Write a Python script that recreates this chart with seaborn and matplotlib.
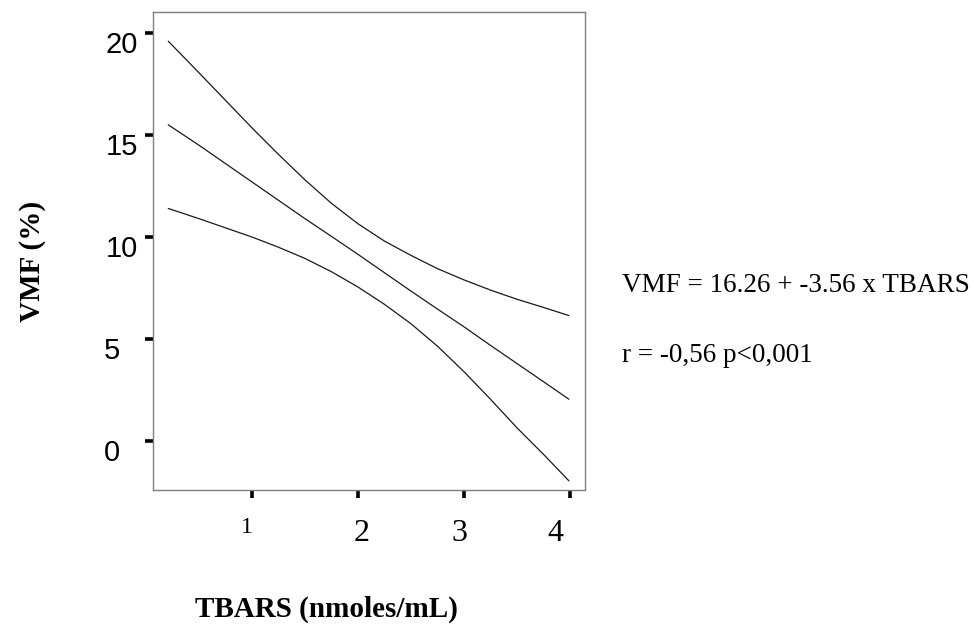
import matplotlib
matplotlib.use("Agg")
import matplotlib.pyplot as plt
import matplotlib.transforms as mtransforms
import seaborn as sns

# values (TBARS vs VMF with 95% band)
tbars = [0.21, 0.50, 0.75, 1.00, 1.25, 1.50, 1.75, 2.00,
         2.25, 2.50, 2.75, 3.00, 3.25, 3.50, 3.75, 3.99]
vmf_upper = [19.6, 18.05, 16.7, 15.35, 14.05, 12.8, 11.65, 10.65,
             9.8, 9.1, 8.45, 7.9, 7.4, 6.95, 6.55, 6.15]
vmf_fit = [15.5, 14.5, 13.6, 12.7, 11.8, 10.9, 10.03, 9.15,
           8.25, 7.35, 6.47, 5.6, 4.69, 3.8, 2.91, 2.05]
vmf_lower = [11.4, 10.9, 10.45, 10.0, 9.5, 8.95, 8.3, 7.55,
             6.7, 5.75, 4.65, 3.4, 2.05, 0.65, -0.65, -1.95]

x_ticks = [1, 2, 3, 4]
x_tick_labels = ["1", "2", "3", "4"]
y_ticks = [0, 5, 10, 15, 20]
y_tick_labels = ["0", "5", "10", "15", "20"]

equation_text = "VMF = 16.26 + -3.56 x TBARS"
stats_text = "r = -0,56 p<0,001"

SERIF = "Liberation Serif"
SANS = "Liberation Sans"

sns.set_theme(style="white")
plt.rcParams.update({
    "text.color": "black",
    "axes.labelcolor": "black",
    "xtick.color": "black",
    "ytick.color": "black",
})

fig = plt.figure(figsize=(9.74, 6.27), dpi=100)
ax = fig.add_axes([153 / 974, (627 - 490) / 627, 432 / 974, 478 / 627])

for series in (vmf_upper, vmf_fit, vmf_lower):
    sns.lineplot(x=tbars, y=series, ax=ax, color="#1a1a1a", linewidth=0.9)

ax.set_xlim(0.066, 4.142)
ax.set_ylim(-2.40, 21.03)

for side in ("left", "right", "top", "bottom"):
    ax.spines[side].set_visible(True)
    ax.spines[side].set_color("#7f7f7f")
    ax.spines[side].set_linewidth(1.0)

ax.set_yticks(y_ticks)
ax.set_yticklabels(y_tick_labels, family=SANS, fontsize=21, va="top")
ax.set_xticks(x_ticks)
ax.set_xticklabels(x_tick_labels, family=SERIF, fontsize=23)

ax.tick_params(axis="both", which="major", direction="out", colors="black",
               width=2.6, length=6, left=True, bottom=True)
ax.tick_params(axis="y", pad=5)
ax.tick_params(axis="x", pad=10)

# y tick labels hang below their tick; single digits sit further left
y_shift = {"0": -18, "5": -18}
for lab in ax.get_yticklabels():
    dx = y_shift.get(lab.get_text(), 0)
    lab.set_transform(lab.get_transform() + mtransforms.ScaledTranslation(
        dx / fig.dpi, 2 / fig.dpi, fig.dpi_scale_trans))

# x tick labels: "1" smaller and labels not centred on their ticks
x_shift = {"1": (-5, -5), "2": (4, -7), "3": (-5, -7), "4": (-15, -7)}
for lab in ax.get_xticklabels():
    if lab.get_text() == "1":
        lab.set_fontsize(17)
    dx, dy = x_shift[lab.get_text()]
    lab.set_transform(lab.get_transform() + mtransforms.ScaledTranslation(
        dx / fig.dpi, dy / fig.dpi, fig.dpi_scale_trans))

ax.set_xlabel("TBARS (nmoles/mL)", family=SERIF, fontsize=21, fontweight="bold",
              ha="left")
ax.xaxis.set_label_coords((195 - 153) / 432, (490 - 596) / 478)
ax.set_ylabel("VMF (%)", family=SERIF, fontsize=21, fontweight="bold")
ax.yaxis.set_label_coords((46 - 153) / 432, (490 - 261) / 478)

fig.text(622 / 974, (627 - 292) / 627, equation_text, family=SERIF,
         fontsize=19.5, va="baseline", ha="left")
fig.text(622 / 974, (627 - 362) / 627, stats_text, family=SERIF,
         fontsize=19.5, va="baseline", ha="left")

fig.savefig("out.png", dpi=100, facecolor="white")
